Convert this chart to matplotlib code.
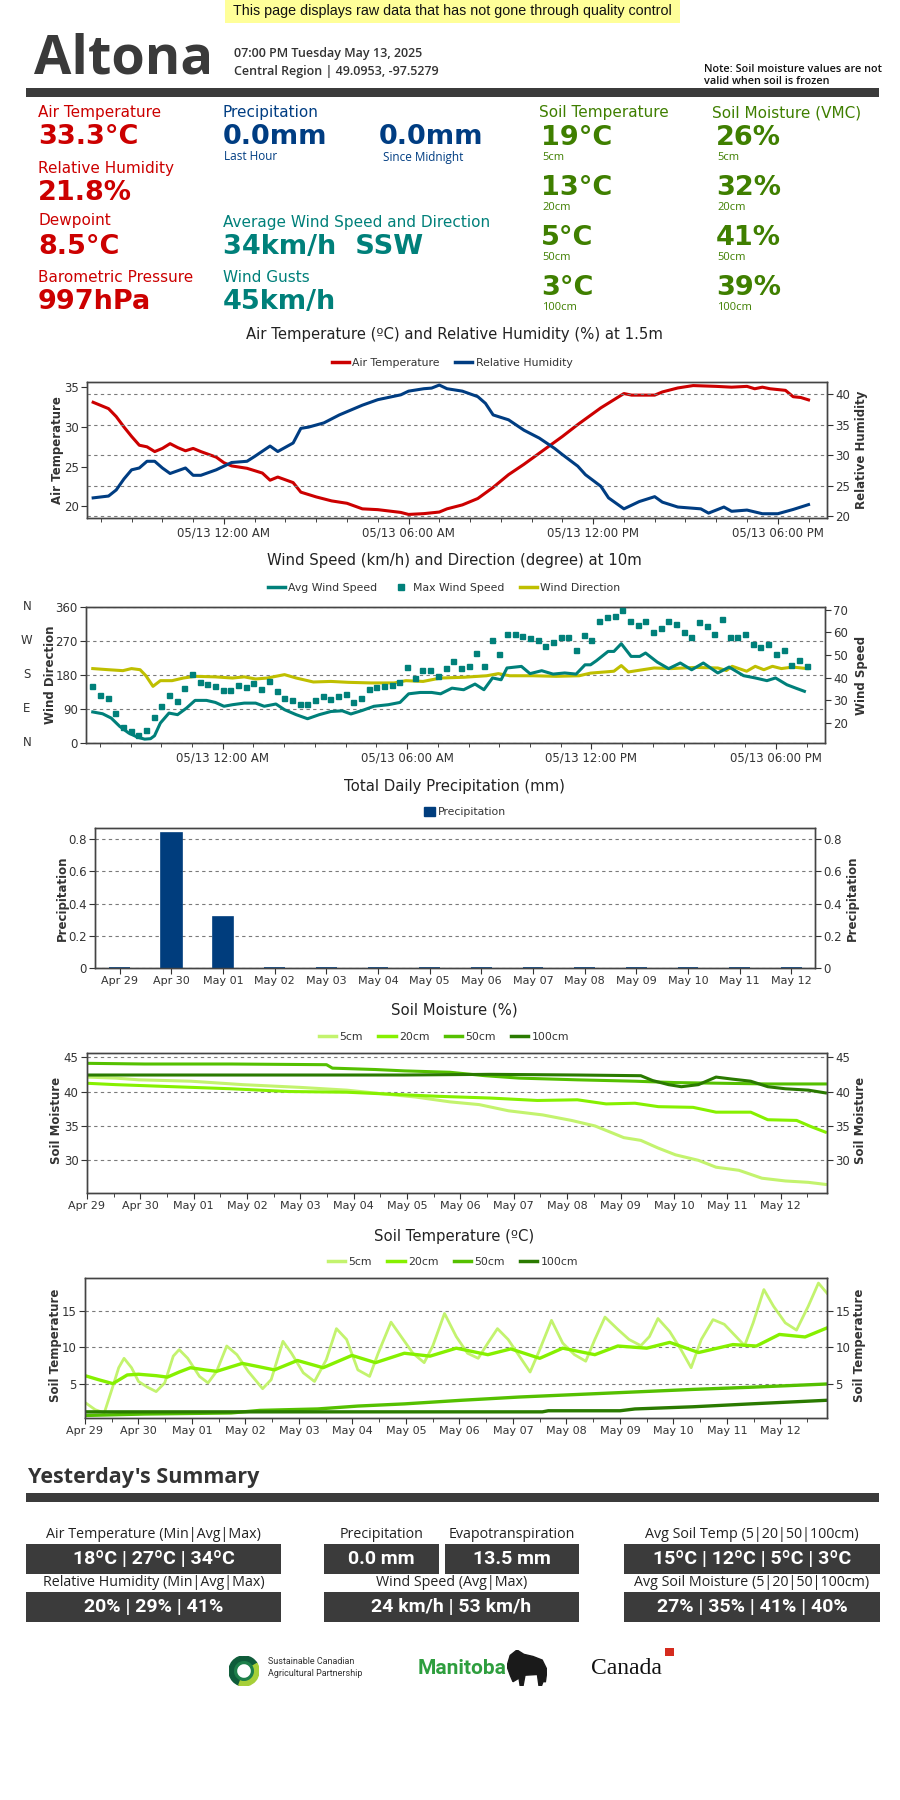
import matplotlib
matplotlib.use("Agg")
import matplotlib.pyplot as plt
from matplotlib.patches import Rectangle, Wedge, Polygon
from matplotlib.lines import Line2D
import numpy as np

# ---------------- data ----------------
# air temperature / humidity, hours from 05/13 00:00
temp_h = [-4.25, -3.75, -3.5, -3.25, -3.0, -2.75, -2.5, -2.25, -2.0, -1.75, -1.5, -1.25, -1.0, -0.75,
          -0.25, 0.0, 0.25, 0.75, 1.25, 1.5, 1.75, 2.25, 2.5, 3.0, 3.5, 4.0, 4.5, 5.0, 5.75, 6.0, 6.5,
          7.0, 7.25, 7.75, 8.25, 8.75, 9.25, 9.75, 10.25, 10.75, 11.0, 11.5, 11.75, 12.25, 12.75, 13.0,
          13.25, 14.0, 14.25, 14.75, 15.25, 16.0, 16.5, 17.0, 17.25, 17.5, 17.75, 18.25, 18.5, 18.75, 19.0]
temp_c = [33.1, 32.3, 31.3, 30.0, 28.8, 27.7, 27.5, 26.9, 27.3, 27.9, 27.4, 27.0, 27.3, 26.9,
          26.2, 25.5, 25.1, 24.8, 24.2, 23.3, 23.7, 23.0, 21.8, 21.2, 20.7, 20.4, 19.7, 19.6, 19.25, 19.0, 19.1,
          19.3, 19.7, 20.2, 21.0, 22.4, 24.0, 25.3, 26.7, 28.1, 28.8, 30.3, 31.0, 32.4, 33.6, 34.2,
          34.0, 34.0, 34.4, 34.9, 35.2, 35.1, 35.0, 35.1, 34.8, 35.0, 34.8, 34.6, 33.8, 33.7, 33.4]
rh_h = [-4.25, -3.75, -3.5, -3.25, -3.0, -2.75, -2.5, -2.25, -2.0, -1.75, -1.25, -1.0, -0.75, -0.25,
        0.25, 0.75, 1.0, 1.5, 1.75, 2.25, 2.5, 2.75, 3.25, 3.75, 4.5, 5.0, 5.75, 6.0, 6.5, 6.75, 7.0,
        7.25, 7.75, 8.25, 8.5, 8.75, 9.25, 9.75, 10.25, 10.75, 11.0, 11.5, 11.75, 12.25, 12.5, 13.0,
        13.5, 14.0, 14.25, 14.75, 15.5, 15.75, 16.25, 16.5, 17.0, 17.5, 18.0, 18.5, 18.75, 19.0]
rh_pct = [23.0, 23.3, 24.3, 26.1, 27.6, 27.9, 29.0, 29.0, 27.9, 27.0, 27.9, 26.7, 26.7, 27.6,
          28.8, 29.0, 29.8, 31.5, 30.6, 32.0, 34.4, 34.6, 35.3, 36.6, 38.2, 39.1, 39.9, 40.5, 40.9, 41.0, 41.5,
          40.9, 40.5, 39.6, 38.5, 36.6, 35.8, 34.1, 32.8, 31.1, 30.1, 28.2, 26.8, 24.9, 23.0, 21.2,
          22.4, 23.2, 22.3, 21.5, 21.2, 20.5, 21.5, 20.8, 21.0, 20.4, 20.4, 21.1, 21.5, 21.9]

# wind
avg_h = [-4.23, -3.91, -3.63, -3.35, -3.06, -2.78, -2.54, -2.35, -2.22, -2.03, -1.75, -1.47, -1.18, -0.9,
         -0.53, -0.24, 0.04, 0.32, 0.7, 1.07, 1.35, 1.73, 2.01, 2.39, 2.76, 3.14, 3.52, 3.89, 4.17, 4.55,
         4.92, 5.39, 5.77, 6.05, 6.43, 6.8, 7.09, 7.46, 7.84, 8.21, 8.5, 8.78, 9.06, 9.25, 9.72, 10.0,
         10.38, 10.75, 11.13, 11.5, 11.79, 11.97, 12.16, 12.54, 12.73, 12.97, 13.29, 13.57, 13.76, 14.14,
         14.51, 14.89, 15.26, 15.64, 16.11, 16.48, 16.95, 17.33, 17.71, 17.99, 18.36, 18.65, 18.93]
avg_kmh = [24.9, 24.1, 22.2, 18.5, 15.6, 13.8, 12.9, 13.1, 14.4, 20.0, 24.4, 23.7, 26.6, 30.0,
           30.0, 29.1, 27.4, 28.1, 28.8, 28.8, 27.4, 28.4, 25.9, 23.7, 21.9, 23.7, 25.1, 25.4, 24.0, 25.6,
           27.4, 28.1, 29.1, 32.9, 33.5, 33.5, 32.9, 35.4, 34.7, 37.2, 34.7, 39.9, 39.1, 44.3, 45.0, 41.8,
           43.1, 41.6, 42.1, 41.6, 45.7, 45.7, 47.5, 51.6, 51.6, 55.0, 49.4, 49.4, 50.9, 46.9,
           44.0, 46.5, 43.5, 46.5, 42.1, 44.7, 40.9, 39.9, 38.7, 39.9, 36.9, 35.4, 34.0]
max_kmh = [36.5, 32.5, 31.0, 24.4, 18.2, 16.3, 14.9, 17.1, 22.6, 27.4, 32.2, 29.6, 35.4, 41.6, 37.9,
           37.2, 36.2, 34.7, 34.7, 36.9, 35.7, 37.6, 35.0, 38.4, 34.3, 31.0, 30.3, 28.5, 28.5, 30.3,
           32.1, 30.7, 31.8, 32.9, 29.1, 31.0, 35.0, 35.7, 36.2, 36.9, 37.9, 44.7, 39.9, 43.5, 43.2,
           40.9, 44.3, 47.5, 44.3, 45.0, 50.9, 45.0, 56.8, 50.6, 59.4, 59.4, 58.2, 57.5, 56.5, 53.8,
           55.6, 57.8, 57.9, 52.4, 59.0, 56.8, 65.1, 66.6, 67.4, 70.0, 65.1, 63.4, 64.9, 60.0, 61.9,
           64.9, 63.8, 60.0, 57.9, 64.4, 62.9, 59.3, 66.0, 57.9, 57.8, 59.4, 54.9, 53.5, 55.0, 50.6,
           52.1, 45.4, 47.9, 45.0]
max_h = np.linspace(-4.25, 19.0, len(max_kmh))  # 15-minute samples
dir_h = [-4.23, -3.72, -3.25, -2.97, -2.69, -2.5, -2.27, -2.03, -1.65, -1.28, -0.9, -0.24, 0.32, 0.7,
         1.07, 1.45, 2.01, 2.39, 2.95, 3.52, 4.08, 4.83, 5.58, 5.96, 6.52, 7.09, 7.84, 8.59, 8.97, 9.34,
         10.09, 10.85, 11.6, 11.97, 12.73, 12.97, 13.2, 13.67, 14.04, 14.6, 15.36, 16.11, 16.39, 16.58,
         17.05, 17.33, 17.61, 17.89, 18.18, 18.55, 19.02]
dir_deg = [197, 194, 191.5, 197, 194, 178, 150, 165, 165, 172, 176.5, 175, 172, 175,
           169.5, 172, 181, 172, 161.5, 163, 160.6, 159, 159, 165, 163, 172, 174, 178, 183.6, 178,
           178, 176.5, 178, 185, 190, 205, 188, 194, 198.6, 197, 200, 198.6, 192, 203,
           190, 203, 194, 203, 197, 201, 197]

# daily precipitation
days = ["Apr 29", "Apr 30", "May 01", "May 02", "May 03", "May 04", "May 05",
        "May 06", "May 07", "May 08", "May 09", "May 10", "May 11", "May 12"]
precip_mm = [0.0, 0.84, 0.32, 0.0, 0.0, 0.0, 0.0, 0.0, 0.0, 0.0, 0.0, 0.0, 0.0, 0.0]

# soil moisture, days since Apr 29 00:00
sm5_d = [0, 0.54, 0.97, 1.95, 2.92, 4.0, 4.87, 5.5, 6.16, 6.8, 7.35, 7.9, 8.54, 9.08, 9.52, 9.84,
         10.06, 10.38, 10.7, 11.03, 11.46, 11.79, 12.22, 12.65, 13.09, 13.52, 13.84]
sm5_v = [42.1, 41.95, 41.7, 41.5, 41.0, 40.6, 40.2, 39.7, 39.2, 38.5, 38.1, 37.2, 36.6, 35.8, 35.0, 34.0,
         33.3, 32.9, 31.8, 30.8, 30.0, 29.0, 28.55, 27.4, 27.0, 26.8, 26.5]
sm20_d = [0, 0.54, 1.62, 2.7, 3.79, 4.87, 5.73, 6.6, 7.57, 8.44, 9.19, 9.73, 10.27, 10.71, 11.36,
          11.79, 12.44, 12.76, 13.3, 13.57, 13.84]
sm20_v = [41.2, 41.0, 40.7, 40.4, 40.0, 39.9, 39.6, 39.3, 39.05, 38.7, 38.8, 38.2, 38.3, 37.8, 37.7,
          37.0, 37.0, 35.9, 35.8, 34.9, 34.1]
sm50_d = [0, 1.08, 2.7, 4.49, 4.6, 5.4, 5.95, 6.8, 7.46, 8.1, 9.19, 10.27, 11.03, 11.9, 12.76, 13.84]
sm50_v = [44.1, 44.0, 44.0, 43.9, 43.4, 43.2, 43.0, 42.8, 42.3, 41.95, 41.7, 41.5, 41.3, 41.2, 41.1, 41.1]
sm100_d = [0, 2.7, 5.95, 7.57, 9.19, 10.38, 10.6, 10.9, 11.14, 11.46, 11.79, 12.1, 12.44, 12.76,
           13.09, 13.52, 13.84]
sm100_v = [42.4, 42.4, 42.4, 42.5, 42.4, 42.3, 41.6, 41.0, 40.7, 41.0, 42.1, 41.8, 41.5, 40.7,
           40.4, 40.2, 39.8]

# soil temperature, days since Apr 29 00:00
st5_d = [0.0, 0.19, 0.36, 0.52, 0.63, 0.73, 0.87, 1.0, 1.17, 1.33, 1.49, 1.65, 1.76, 1.92, 2.14, 2.3,
         2.46, 2.65, 2.84, 3.05, 3.32, 3.48, 3.7, 3.86, 4.08, 4.29, 4.51, 4.7, 4.89, 5.1, 5.32, 5.48,
         5.72, 5.91, 6.13, 6.34, 6.5, 6.72, 6.94, 7.15, 7.35, 7.53, 7.71, 7.91, 8.12, 8.32, 8.5, 8.72,
         8.93, 9.15, 9.36, 9.53, 9.72, 9.96, 10.17, 10.39, 10.55, 10.71, 10.93, 11.14, 11.33, 11.52,
         11.74, 11.95, 12.17, 12.33, 12.49, 12.69, 12.87, 13.09, 13.3, 13.52, 13.71, 13.87]
st5_v = [2.4, 1.4, 0.95, 4.6, 7.2, 8.5, 7.2, 5.3, 4.5, 3.9, 5.1, 8.8, 9.7, 8.5, 6.0, 5.1,
         6.7, 10.2, 9.0, 6.7, 4.3, 5.55, 10.85, 9.2, 6.5, 5.3, 8.3, 12.6, 11.1, 6.9, 6.0, 9.2,
         13.5, 11.5, 9.2, 7.9, 10.2, 14.7, 11.5, 9.2, 8.5, 10.6, 12.6, 11.1, 8.8, 6.6, 9.7, 13.75,
         10.6, 9.0, 8.1, 11.1, 14.2, 12.5, 11.1, 10.25, 11.5, 14.0, 12.2, 9.7, 7.2, 11.1,
         13.85, 13.2, 11.5, 10.25, 13.4, 18.0, 15.7, 13.4, 12.4, 15.7, 18.9, 17.5]
st20_d = [0, 0.25, 0.52, 0.79, 1.0, 1.33, 1.54, 1.76, 1.97, 2.24, 2.46, 2.94, 3.21, 3.54, 3.97, 4.45,
          4.99, 5.43, 5.97, 6.45, 6.94, 7.53, 7.96, 8.5, 8.93, 9.53, 9.96, 10.5, 10.93, 11.47, 12.11,
          12.55, 12.98, 13.46, 13.87]
st20_v = [6.1, 5.55, 5.0, 6.2, 6.3, 6.1, 5.9, 6.6, 7.2, 6.9, 6.7, 7.8, 7.4, 6.9, 8.2, 7.2,
          8.9, 7.9, 9.2, 8.8, 9.9, 9.0, 9.8, 8.5, 9.9, 9.0, 10.2, 9.9, 10.7, 9.3, 10.4,
          10.2, 11.8, 11.45, 12.7]
st50_d = [0, 1.11, 2.73, 3.27, 4.35, 5.1, 5.97, 7.04, 8.12, 9.2, 10.28, 11.36, 12.44, 13.87]
st50_v = [0.6, 0.8, 0.95, 1.3, 1.5, 1.9, 2.2, 2.7, 3.15, 3.5, 3.85, 4.2, 4.5, 4.95]
st100_d = [0, 3.81, 8.55, 8.66, 10.0, 10.28, 11.36, 12.44, 13.87]
st100_v = [1.1, 1.1, 1.1, 1.25, 1.25, 1.5, 1.8, 2.2, 2.7]

# ---------------- style ----------------
RED = "#cc0000"
BLUE = "#003d82"
TEAL = "#00807a"
OLIVE = "#bfbf00"
NAVY = "#003d7d"
SGREEN = "#3f7f00"
C5, C20, C50, C100 = "#c3f36e", "#86f000", "#55c000", "#2a7a00"
DARK = "#3b3b3b"
TXT = "#333333"
GRID = dict(color="#7a7a7a", linestyle=(0, (3, 3)), linewidth=0.8)
INFO = "Open Sans"

W, H = 900, 1800
fig = plt.figure(figsize=(9, 18), dpi=100)
fig.patch.set_facecolor("white")


def fx(x):
    return x / W


def fy(y):
    return 1 - y / H


def add_ax(x0, y0, x1, y1):
    return fig.add_axes([fx(x0), fy(y1), (x1 - x0) / W, (y1 - y0) / H])


def txt(x, y, s, **kw):
    kw.setdefault("va", "center")
    fig.text(fx(x), fy(y), s, **kw)


def box(x0, y0, x1, y1, color):
    fig.add_artist(Rectangle((fx(x0), fy(y1)), (x1 - x0) / W, (y1 - y0) / H,
                             transform=fig.transFigure, facecolor=color, edgecolor="none"))


def style(ax):
    for s in ax.spines.values():
        s.set_color("#444444")
        s.set_linewidth(1.0)
    ax.tick_params(colors=TXT, labelsize=8.5, length=4, width=0.8, pad=2)
    ax.tick_params(which="minor", length=3, width=0.7, colors="#444444")


def ylab(x, y, s):
    txt(x, y, s, rotation=90, ha="center", fontsize=8.5, fontweight="bold", color=TXT)


def chart_head(y_title, y_leg, title, handles, labels, xc=452):
    txt(454, y_title, title, ha="center", fontsize=10.7, color="#222222")
    fig.legend(handles, labels, loc="center", bbox_to_anchor=(fx(xc), fy(y_leg)), ncol=len(handles),
               frameon=False, fontsize=7.8, handlelength=1.6, handletextpad=0.3, columnspacing=1.4,
               labelcolor=TXT)


# ---------------- header ----------------
box(225, 0, 680, 23, "#ffff99")
txt(452, 11, "This page displays raw data that has not gone through quality control", ha="center",
    fontsize=10.3, color="#111111", family="Liberation Sans")
txt(34, 59, "Altona", fontsize=39, fontweight="bold", color="#3a3a3a", family=INFO)
txt(234, 54, "07:00 PM Tuesday May 13, 2025", fontsize=9, color="#333333", family=INFO,
    fontweight="semibold")
txt(234, 71, "Central Region | 49.0953, -97.5279", fontsize=9, color="#333333", family=INFO,
    fontweight="semibold")
txt(704, 70, "Note: Soil moisture values are not", fontsize=7.8, color="#111111", family=INFO,
    fontweight="semibold")
txt(704, 82, "valid when soil is frozen", fontsize=7.8, color="#111111", family=INFO,
    fontweight="semibold")
box(26, 88, 879, 97, DARK)

# ---------------- current conditions ----------------
lab = dict(fontsize=11, family="DejaVu Sans")
big = dict(fontsize=19.5, fontweight="bold", family="DejaVu Sans")
small = dict(fontsize=8, family=INFO)

txt(38, 113, "Air Temperature", color=RED, **lab)
txt(38, 137, "33.3°C", color=RED, **big)
txt(38, 168, "Relative Humidity", color=RED, **lab)
txt(38, 193, "21.8%", color=RED, **big)
txt(38, 221, "Dewpoint", color=RED, **lab)
txt(38, 247, "8.5°C", color=RED, **big)
txt(38, 277, "Barometric Pressure", color=RED, **lab)
txt(38, 302, "997hPa", color=RED, **big)

txt(223, 113, "Precipitation", color=BLUE, **lab)
txt(223, 137, "0.0mm", color=BLUE, **big)
txt(224, 157, "Last Hour", color=BLUE, fontsize=8.5, family=INFO)
txt(379, 137, "0.0mm", color=BLUE, **big)
txt(383, 157, "Since Midnight", color=BLUE, fontsize=8.5, family=INFO)
txt(223, 223, "Average Wind Speed and Direction", color=TEAL, **lab)
txt(223, 247, "34km/h  SSW", color=TEAL, **big)
txt(223, 277, "Wind Gusts", color=TEAL, **lab)
txt(223, 302, "45km/h", color=TEAL, **big)

txt(539, 113, "Soil Temperature", color=SGREEN, **lab)
txt(712, 113, "Soil Moisture (VMC)", color=SGREEN, **lab)
for val_t, val_m, depth, yy in [("19°C", "26%", "5cm", 138), ("13°C", "32%", "20cm", 188),
                                ("5°C", "41%", "50cm", 238), ("3°C", "39%", "100cm", 288)]:
    txt(541, yy, val_t, color=SGREEN, **big)
    txt(542, yy + 19, depth, color=SGREEN, **small)
    txt(716, yy, val_m, color=SGREEN, **big)
    txt(717, yy + 20, depth, color=SGREEN, **small)

# ---------------- chart 1: air temperature & RH ----------------
hour_ticks = [0, 6, 12, 18]
hour_labels = ["05/13 12:00 AM", "05/13 06:00 AM", "05/13 12:00 PM", "05/13 06:00 PM"]

chart_head(335, 363, "Air Temperature (ºC) and Relative Humidity (%) at 1.5m",
           [Line2D([], [], color=RED, lw=2.5), Line2D([], [], color=BLUE, lw=2.5)],
           ["Air Temperature", "Relative Humidity"])
ax1 = add_ax(87, 382, 827, 518)
ax1.plot(temp_h, temp_c, color=RED, lw=2.2, zorder=3)
ax1.set_xlim(-4.45, 19.6)
ax1.set_ylim(18.55, 35.65)
ax1.set_yticks([20, 25, 30, 35])
ax1.set_xticks(hour_ticks)
ax1.set_xticklabels(hour_labels)
ax1.set_xticks(np.arange(-4, 20), minor=True)
style(ax1)
ax1b = ax1.twinx()
ax1b.plot(rh_h, rh_pct, color=BLUE, lw=2.2, zorder=3)
ax1b.set_ylim(19.7, 42)
ax1b.set_yticks([20, 25, 30, 35, 40])
ax1b.grid(axis="y", **GRID)
style(ax1b)
ylab(57, 450, "Air Temperature")
ylab(861, 450, "Relative Humidity")

# ---------------- chart 2: wind ----------------
chart_head(560, 588, "Wind Speed (km/h) and Direction (degree) at 10m",
           [Line2D([], [], color=TEAL, lw=2.5),
            Line2D([], [], color=TEAL, lw=0, marker="s", markersize=4),
            Line2D([], [], color=OLIVE, lw=2.5)],
           ["Avg Wind Speed", "Max Wind Speed", "Wind Direction"], xc=444)
ax2 = add_ax(86, 607, 825, 743)
ax2.plot(dir_h, dir_deg, color=OLIVE, lw=2.2, zorder=3)
ax2.set_xlim(-4.45, 19.6)
ax2.set_ylim(0, 360)
ax2.set_yticks([0, 90, 180, 270, 360])
ax2.grid(axis="y", **GRID)
ax2.set_xticks(hour_ticks)
ax2.set_xticklabels(hour_labels)
ax2.set_xticks(np.arange(-4, 20), minor=True)
style(ax2)
for v, c in zip([0, 90, 180, 270, 360], ["N", "E", "S", "W", "N"]):
    ax2.text(-0.08, v, c, transform=ax2.get_yaxis_transform(), ha="center", va="center",
             fontsize=8.5, color=TXT)
ax2b = ax2.twinx()
ax2b.plot(avg_h, avg_kmh, color=TEAL, lw=2.2, zorder=3)
ax2b.plot(max_h, max_kmh, ls="none", marker="s", markersize=3.6, color=TEAL, zorder=3)
ax2b.set_ylim(11.2, 71.2)
ax2b.set_yticks([20, 30, 40, 50, 60, 70])
style(ax2b)
ylab(51, 675, "Wind Direction")
ylab(861, 675, "Wind Speed")

# ---------------- chart 3: daily precipitation ----------------
txt(454, 786, "Total Daily Precipitation (mm)", ha="center", fontsize=10.7, color="#222222")
fig.legend([Rectangle((0, 0), 1, 1, color=NAVY)], ["Precipitation"], loc="center",
           bbox_to_anchor=(fx(465), fy(812)), frameon=False, fontsize=7.8, handlelength=1.0,
           handleheight=1.0, handletextpad=0.3, labelcolor=TXT)
ax3 = add_ax(95, 828, 815, 968)
xpos = np.arange(len(days))
ax3.bar(xpos, precip_mm, width=0.4, color=NAVY, edgecolor=NAVY, linewidth=1.2, zorder=3)
ax3.set_xlim(-0.48, 13.46)
ax3.set_ylim(0, 0.87)
ax3.set_yticks([0, 0.2, 0.4, 0.6, 0.8])
ax3.set_yticklabels(["0", "0.2", "0.4", "0.6", "0.8"])
ax3.set_xticks(xpos)
ax3.set_xticklabels(days)
ax3.grid(axis="y", **GRID)
ax3.set_axisbelow(True)
style(ax3)
ax3.tick_params(axis="x", labelsize=8)
ax3b = ax3.twinx()
ax3b.set_ylim(0, 0.87)
ax3b.set_yticks([0, 0.2, 0.4, 0.6, 0.8])
ax3b.set_yticklabels(["0", "0.2", "0.4", "0.6", "0.8"])
style(ax3b)
ylab(62, 898, "Precipitation")
ylab(852, 898, "Precipitation")

depth_handles = [Line2D([], [], color=c, lw=2.5) for c in (C5, C20, C50, C100)]
depth_labels = ["5cm", "20cm", "50cm", "100cm"]


def day_axis(ax):
    ax.set_xlim(0, 13.87)
    ax.set_xticks(np.arange(14))
    ax.set_xticklabels(days)
    ax.set_xticks(np.arange(0.5, 13.9, 1.0), minor=True)
    style(ax)
    ax.tick_params(axis="x", labelsize=8)


# ---------------- chart 4: soil moisture ----------------
chart_head(1010, 1037, "Soil Moisture (%)", depth_handles, depth_labels, xc=444)
ax4 = add_ax(87, 1053, 827, 1193)
ax4.plot(sm5_d, sm5_v, color=C5, lw=2.2)
ax4.plot(sm20_d, sm20_v, color=C20, lw=2.2)
ax4.plot(sm50_d, sm50_v, color=C50, lw=2.2)
ax4.plot(sm100_d, sm100_v, color=C100, lw=2.2)
ax4.set_ylim(25.25, 45.6)
ax4.set_yticks([30, 35, 40, 45])
ax4.grid(axis="y", **GRID)
day_axis(ax4)
ax4b = ax4.twinx()
ax4b.set_ylim(25.25, 45.6)
ax4b.set_yticks([30, 35, 40, 45])
style(ax4b)
ylab(56, 1120, "Soil Moisture")
ylab(860, 1120, "Soil Moisture")

# ---------------- chart 5: soil temperature ----------------
chart_head(1236, 1262, "Soil Temperature (ºC)", depth_handles, depth_labels, xc=453)
ax5 = add_ax(85, 1278, 827, 1418)
ax5.plot(st5_d, st5_v, color=C5, lw=2.0)
ax5.plot(st20_d, st20_v, color=C20, lw=2.4)
ax5.plot(st50_d, st50_v, color=C50, lw=2.4)
ax5.plot(st100_d, st100_v, color=C100, lw=2.4)
ax5.set_ylim(0.25, 19.6)
ax5.set_yticks([5, 10, 15])
ax5.grid(axis="y", **GRID)
day_axis(ax5)
ax5b = ax5.twinx()
ax5b.set_ylim(0.25, 19.6)
ax5b.set_yticks([5, 10, 15])
style(ax5b)
ylab(56, 1345, "Soil Temperature")
ylab(860, 1345, "Soil Temperature")

# ---------------- yesterday's summary ----------------
txt(28, 1477, "Yesterday's Summary", fontsize=15.5, fontweight="bold", color="#333333", family=INFO)
box(26, 1493, 879, 1502, DARK)

head = dict(ha="center", fontsize=10.3, color="#222222", family=INFO)
val = dict(ha="center", fontsize=14, fontweight="bold", color="white", family="Roboto")
summary = [
    (26, 281, 1544, "Air Temperature (Min|Avg|Max)", "18ºC | 27ºC | 34ºC"),
    (26, 281, 1592, "Relative Humidity (Min|Avg|Max)", "20% | 29% | 41%"),
    (324, 439, 1544, "Precipitation", "0.0 mm"),
    (445, 579, 1544, "Evapotranspiration", "13.5 mm"),
    (324, 579, 1592, "Wind Speed (Avg|Max)", "24 km/h | 53 km/h"),
    (624, 880, 1544, "Avg Soil Temp (5|20|50|100cm)", "15ºC | 12ºC | 5ºC | 3ºC"),
    (624, 880, 1592, "Avg Soil Moisture (5|20|50|100cm)", "27% | 35% | 41% | 40%"),
]
for x0, x1, y0, name, value in summary:
    txt((x0 + x1) / 2, y0 - 10, name, **head)
    box(x0, y0, x1, y0 + 30, DARK)
    txt((x0 + x1) / 2, y0 + 15, value, **val)

# ---------------- logos ----------------
lax = fig.add_axes([fx(229), fy(1686), 30 / W, 30 / H])
lax.set_xlim(-1, 1)
lax.set_ylim(-1, 1)
lax.set_aspect("equal")
lax.axis("off")
lax.add_patch(Wedge((0, 0), 1, 30, 250, width=0.35, color="#0f5c3a"))
lax.add_patch(Wedge((0, 0), 1, 250, 390, width=0.35, color="#a6cf38"))
lax.add_patch(Wedge((0, 0), 0.62, 0, 360, width=0.12, color="#1d7f4a"))
txt(268, 1661, "Sustainable Canadian", fontsize=6.5, color="#333333", family="Roboto")
txt(268, 1674, "Agricultural Partnership", fontsize=6.5, color="#333333", family="Roboto")
txt(418, 1668, "Manitoba", fontsize=15, fontweight="bold", color="#2e9e3e", family="Roboto")
bax = fig.add_axes([fx(507), fy(1686), 40 / W, 36 / H])
bax.set_xlim(0, 1)
bax.set_ylim(0, 1)
bax.axis("off")
bison = [(0.0, 0.55), (0.08, 0.85), (0.25, 1.0), (0.42, 0.88), (0.65, 0.82), (0.88, 0.72),
         (1.0, 0.45), (0.96, 0.12), (0.9, 0.12), (0.86, 0.0), (0.8, 0.0), (0.76, 0.32),
         (0.45, 0.3), (0.4, 0.0), (0.33, 0.0), (0.3, 0.22), (0.15, 0.12), (0.08, 0.3)]
bax.add_patch(Polygon(bison, closed=True, color="#1a1a1a"))
txt(591, 1668, "Canada", fontsize=17, color="#111111", family="Liberation Serif")
box(665, 1648, 674, 1656, "#d52b1e")

fig.savefig("out.png", dpi=100, facecolor="white")
